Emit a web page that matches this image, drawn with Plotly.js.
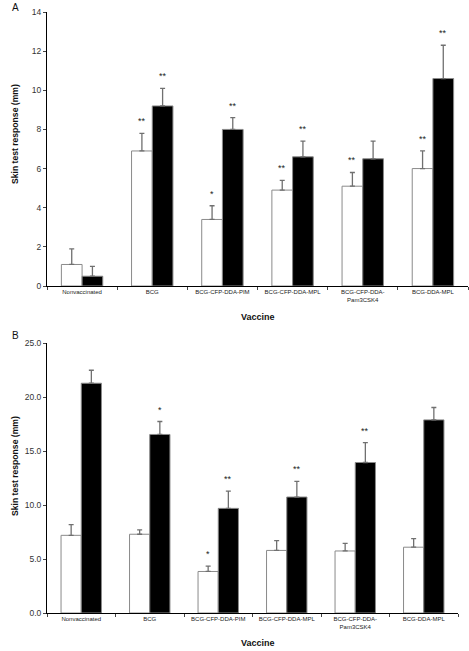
<!DOCTYPE html>
<html>
<head>
<meta charset="utf-8">
<script src="https://cdn.plot.ly/plotly-3.0.1.min.js"></script>
<style>html,body{margin:0;padding:0;background:#fff;}#chart{width:469px;height:651px;}</style>
</head>
<body>
<div id="chart"></div>
<script>
// ---- Data ----
const categories = ["Nonvaccinated", "BCG", "BCG-CFP-DDA-PIM", "BCG-CFP-DDA-MPL", "BCG-CFP-DDA-<br>Pam3CSK4", "BCG-DDA-MPL"];

// Panel A
const aWhite = [1.1, 6.9, 3.4, 4.9, 5.1, 6.0];
const aWhiteErr = [0.8, 0.9, 0.7, 0.5, 0.7, 0.9];
const aBlack = [0.5, 9.2, 8.0, 6.6, 6.5, 10.6];
const aBlackErr = [0.5, 0.9, 0.6, 0.8, 0.9, 1.7];
const aWhiteStars = ["", "**", "*", "**", "**", "**"];
const aBlackStars = ["", "**", "**", "**", "", "**"];
const aTicks = [0, 2, 4, 6, 8, 10, 12, 14];

// Panel B
const bWhite = [7.2, 7.3, 3.85, 5.8, 5.75, 6.1];
const bWhiteErr = [1.0, 0.4, 0.5, 0.9, 0.7, 0.8];
const bBlack = [21.3, 16.55, 9.7, 10.75, 13.95, 17.9];
const bBlackErr = [1.2, 1.2, 1.6, 1.45, 1.85, 1.15];
const bWhiteStars = ["", "", "*", "", "", ""];
const bBlackStars = ["", "*", "**", "**", "**", ""];
const bTicks = [0, 5, 10, 15, 20, 25];

// ---- Style ----
const FONT = "Liberation Sans, Arial, sans-serif";
const edge = {color: "#8a8a8a", width: 1};
function errBar(arr) {
  return {type: "data", array: arr, symmetric: false, arrayminus: arr.map(() => 0),
          color: "#707070", thickness: 1.3, width: 2.5};
}
function barTrace(y, err, fill, xa, ya) {
  return {type: "bar", x: categories, y: y, xaxis: xa, yaxis: ya,
          marker: {color: fill, line: edge}, error_y: errBar(err),
          showlegend: false, hoverinfo: "y"};
}

const traces = [
  barTrace(aWhite, aWhiteErr, "#ffffff", "x", "y"),
  barTrace(aBlack, aBlackErr, "#000000", "x", "y"),
  barTrace(bWhite, bWhiteErr, "#ffffff", "x2", "y2"),
  barTrace(bBlack, bBlackErr, "#000000", "x2", "y2")
];

const bargapA = 0.41;
const half = (1 - bargapA) / 4;
const annotations = [];
function addStars(stars, vals, errs, side, xr, yr) {
  stars.forEach((s, i) => {
    if (!s) return;
    annotations.push({xref: xr, yref: yr, x: i + side * half, y: vals[i] + errs[i],
      text: s, showarrow: false, yanchor: "bottom", yshift: 5,
      font: {family: FONT, size: 9, color: "#222"}});
  });
}
addStars(aWhiteStars, aWhite, aWhiteErr, -1, "x", "y");
addStars(aBlackStars, aBlack, aBlackErr, 1, "x", "y");
addStars(bWhiteStars, bWhite, bWhiteErr, -1, "x2", "y2");
addStars(bBlackStars, bBlack, bBlackErr, 1, "x2", "y2");

function paperY(py) { return (651 - 38 - py) / 601; }
function paperX(px) { return (px - 47) / 421; }
function txt(text, px, py, size, bold, angle) {
  annotations.push({xref: "paper", yref: "paper", x: paperX(px), y: paperY(py),
    text: bold ? "<b>" + text + "</b>" : text, showarrow: false, textangle: angle || 0,
    xanchor: "center", yanchor: "middle",
    font: {family: FONT, size: size, color: "#111"}});
}
txt("A", 15, 7, 10, false);
txt("B", 15, 335, 10, false);
txt("Skin test response (mm)", 15, 134, 8.6, true, -90);
txt("Skin test response (mm)", 15, 466, 8.6, true, -90);
txt("Vaccine", 258, 317, 9, true);
txt("Vaccine", 258, 643, 9, true);

const xCommon = {type: "category", showline: true, linecolor: "#000", linewidth: 1,
  ticks: "outside", tickson: "boundaries", ticklen: 3, tickcolor: "#444", tickwidth: 1,
  tickfont: {family: FONT, size: 6, color: "#222"}, showgrid: false, zeroline: false,
  fixedrange: true, tickangle: 0};
const yCommon = {showline: true, linecolor: "#000", linewidth: 1, ticks: "outside",
  ticklen: 3, tickcolor: "#444", tickwidth: 1, showgrid: false, zeroline: false,
  tickfont: {family: FONT, size: 8.5, color: "#333"}, tickmode: "array"};

const layout = {
  width: 469, height: 651,
  margin: {l: 47, r: 1, t: 12, b: 38},
  paper_bgcolor: "#fff", plot_bgcolor: "#fff",
  barmode: "group", bargap: bargapA, bargroupgap: 0,
  showlegend: false,
  xaxis: Object.assign({}, xCommon, {domain: [0, 1], anchor: "y"}),
  yaxis: Object.assign({}, yCommon, {domain: [paperY(286), 1], anchor: "x",
    range: [0, 14], tickvals: aTicks, ticktext: aTicks.map(String)}),
  xaxis2: Object.assign({}, xCommon, {domain: [0, paperX(458)], anchor: "y2"}),
  yaxis2: Object.assign({}, yCommon, {domain: [0, paperY(343.3)], anchor: "x2",
    range: [0, 25], tickvals: bTicks, ticktext: bTicks.map(v => v.toFixed(1))}),
  annotations: annotations
};

Plotly.newPlot("chart", traces, layout, {staticPlot: true, displayModeBar: false});
</script>
</body>
</html>
